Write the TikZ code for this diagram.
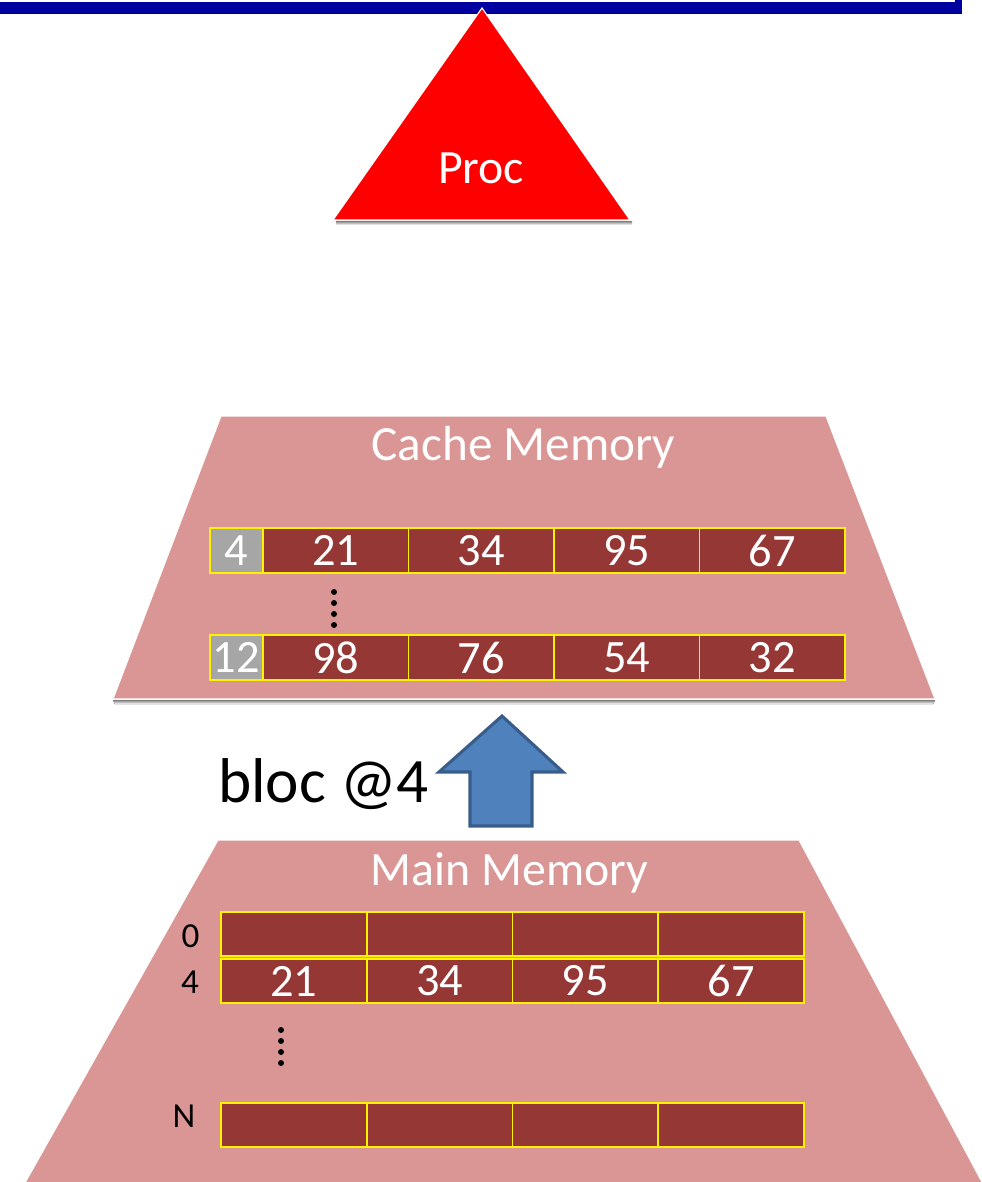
\documentclass[tikz,border=0pt]{standalone}
\usepackage{fontspec}
\setmainfont{Carlito}
\definecolor{barblue}{RGB}{0,0,160}
\definecolor{procred}{RGB}{255,0,0}
\definecolor{trapfill}{RGB}{217,150,148}
\definecolor{cellfill}{RGB}{149,55,53}
\definecolor{tagfill}{RGB}{166,166,166}
\definecolor{arrfill}{RGB}{79,129,189}
\definecolor{arrline}{RGB}{56,93,138}
\definecolor{shade}{RGB}{200,200,200}
\tikzset{
  cell/.style={draw=yellow, line width=1.2pt, fill=cellfill, text=white, inner sep=0pt,
    minimum height=11.25mm, font=\fontsize{33}{33}\selectfont},
  tagbox/.style={draw=yellow, line width=1.2pt, fill=tagfill, text=white, inner sep=0pt,
    minimum width=13.25mm, minimum height=11.25mm, font=\fontsize{33}{33}\selectfont},
  title/.style={text=white, inner sep=0pt, anchor=base, font=\fontsize{35}{35}\selectfont},
  addr/.style={text=black, inner sep=0pt, font=\fontsize{25}{25}\selectfont},
  dotmark/.style={fill=black, circle, inner sep=0pt, minimum size=1.6mm},
}
\begin{document}
\begin{tikzpicture}[x=0.25mm,y=-0.25mm]
\useasboundingbox (0,0) rectangle (982,1182);
% top bar
\fill[barblue] (0,1.5) rectangle (962,12.5);
\fill[barblue] (955,0) rectangle (962,12.5);
\draw[shade, line width=0.6pt] (0,13.5) -- (962,13.5);
% processor
\fill[shade] (336,221) -- (632,221) -- (632,225) -- (336,225) -- cycle;
\draw[white, line width=0.8pt, fill=procred] (482,8) -- (630,220) -- (333,220) -- cycle;
\node[text=white, inner sep=0pt, anchor=base, font=\fontsize{34}{34}\selectfont] (proc) at (481,183) {Proc};
% cache memory trapezoid
\fill[shade] (113,700) -- (935,700) -- (933,704) -- (115,704) -- cycle;
\draw[white, line width=0.8pt, fill=trapfill] (221,416) -- (826,416) -- (935,699) -- (113,699) -- cycle;
\node[title] (cachetitle) at (523.5,460) {Cache Memory};
% cache row 1
\node[tagbox] (t1) at (236.5,550.5) {4};
\foreach \v [count=\i] in {21,34,95,67}{
  \node[cell, minimum width=36.375mm] (ca\i) at ({263+145.5*(\i-0.5)},550.5) {\v};
}
% cache row 2
\node[tagbox] (t2) at (236.5,657.5) {12};
\foreach \v [count=\i] in {98,76,54,32}{
  \node[cell, minimum width=36.375mm] (cb\i) at ({263+145.5*(\i-0.5)},657.5) {\v};
}
% cache dots
\foreach \y [count=\i] in {592,603,614,625}{
  \node[dotmark, minimum size=1.5mm] (cd\i) at (334,\y) {};
}
% arrow
\draw[arrline, line width=2.2pt, fill=arrfill, line join=miter]
  (502,716) -- (563,772) -- (532,772) -- (532,826) -- (470,826) -- (470,772) -- (439,772) -- cycle;
\node[text=black, inner sep=0pt, anchor=base west, font=\fontsize{45}{45}\selectfont] (bloc) at (218,802) {bloc @4};
% main memory
\begin{scope}
\clip (0,0) rectangle (982,1182);
\draw[white, line width=0.8pt, fill=trapfill] (218,840) -- (799,840) -- (990,1197) -- (17,1197) -- cycle;
\end{scope}
\node[title, font=\fontsize{34}{34}\selectfont] (maintitle) at (509.5,885) {Main Memory};
\foreach \r/\yc in {a/934,b/981,c/1125}{
  \foreach \i in {1,2,3,4}{
    \node[cell, minimum width=36.44mm, minimum height=11mm] (m\r\i) at ({221+145.75*(\i-0.5)},\yc) {};
  }
}
\foreach \v [count=\i] in {21,34,95,67}{
  \node[text=white, inner sep=0pt, font=\fontsize{33}{33}\selectfont] (mv\i) at (mb\i) {\v};
}
\node[addr] (l0) at (190.5,936.5) {0};
\node[addr] (l4) at (190,982.5) {4};
\node[addr] (lN) at (184,1116.5) {N};
\foreach \y [count=\i] in {1030,1041,1052,1063}{
  \node[dotmark, minimum size=1.5mm] (md\i) at (281,\y) {};
}
\end{tikzpicture}
\end{document}
